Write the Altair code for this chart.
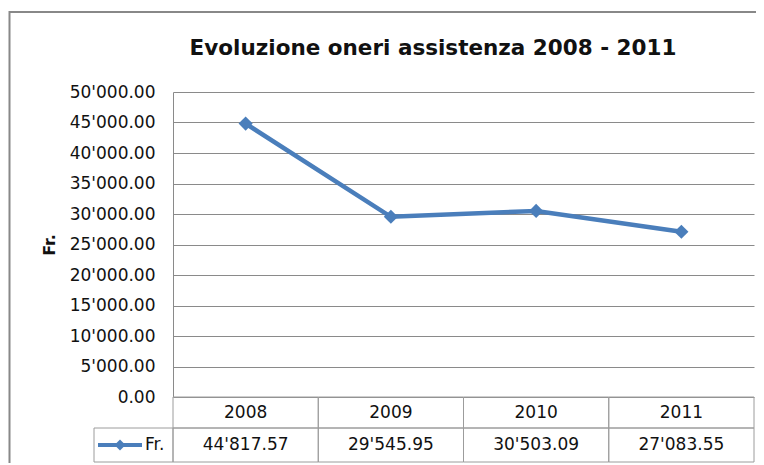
import altair as alt
import pandas as pd

# ---- data ----
years = ["2008", "2009", "2010", "2011"]
values = [44817.57, 29545.95, 30503.09, 27083.55]
y_ticks = [0, 5000, 10000, 15000, 20000, 25000, 30000, 35000, 40000, 45000, 50000]
chart_title = "Evoluzione oneri assistenza 2008 - 2011"
series_name = "Fr."
y_title = "Fr."

labels = [f"{v:,.2f}".replace(",", "'") for v in values]
df = pd.DataFrame({"year": years, "value": values, "label": labels})
one = pd.DataFrame({"name": [series_name], "title": [chart_title]})

# ---- style ----
W, H = 581, 305
FONT = "DejaVu Sans"
BLUE = "#4a7ebb"
GRID = "#8a8a8a"
TABLE = "#9c9c9c"
R1 = 31   # first table row height
R2 = 65   # table bottom (relative to plot bottom)

xenc = alt.X("year:N", sort=years,
             scale=alt.Scale(type="band", paddingInner=0, paddingOuter=0),
             axis=None)
yaxis = alt.Axis(values=y_ticks,
                 labelExpr="replace(format(datum.value, ',.2f'), ',', \"'\")",
                 grid=True, gridColor=GRID, gridWidth=1,
                 domainColor=GRID, domainWidth=1,
                 ticks=False, labelPadding=18,
                 labelFont=FONT, labelFontSize=17, labelColor="#111111",
                 title=y_title, titleFont=FONT, titleFontSize=16,
                 titleFontWeight="bold", titleColor="#111111",
                 titleAngle=-90, titleX=-124, titleY=H / 2,
                 titleBaseline="middle", titleAlign="center")
yenc = alt.Y("value:Q", scale=alt.Scale(domain=[0, 50000], nice=False), axis=yaxis)

line = alt.Chart(df).mark_line(color=BLUE, strokeWidth=4.5).encode(x=xenc, y=yenc)
pts = alt.Chart(df).mark_point(shape="diamond", filled=True, size=200,
                               color=BLUE, opacity=1).encode(x=xenc, y=yenc)

row1 = alt.Chart(df).mark_rect(fill="transparent", stroke=TABLE, strokeWidth=1).encode(
    x=xenc, y=alt.value(H), y2=alt.value(H + R1))
row2 = alt.Chart(df).mark_rect(fill="transparent", stroke=TABLE, strokeWidth=1).encode(
    x=xenc, y=alt.value(H + R1), y2=alt.value(H + R2))
leg_cell = alt.Chart(one).mark_rect(fill="transparent", stroke=TABLE, strokeWidth=1).encode(
    x=alt.value(-79), x2=alt.value(0), y=alt.value(H + R1), y2=alt.value(H + R2))

yr_text = alt.Chart(df).mark_text(font=FONT, fontSize=17, color="#111111",
                                  baseline="middle").encode(
    x=xenc, y=alt.value(H + 16), text="year:N")
val_text = alt.Chart(df).mark_text(font=FONT, fontSize=17, color="#111111",
                                   baseline="middle").encode(
    x=xenc, y=alt.value(H + 48), text="label:N")

leg_line = alt.Chart(one).mark_rule(color=BLUE, strokeWidth=4).encode(
    x=alt.value(-75), x2=alt.value(-31), y=alt.value(H + 48))
leg_pt = alt.Chart(one).mark_point(shape="diamond", filled=True, size=120,
                                   color=BLUE, opacity=1).encode(
    x=alt.value(-53), y=alt.value(H + 48))
leg_txt = alt.Chart(one).mark_text(font=FONT, fontSize=17, color="#111111",
                                   align="left", baseline="middle").encode(
    x=alt.value(-28), y=alt.value(H + 48), text="name:N")

title_txt = alt.Chart(one).mark_text(font=FONT, fontSize=21.5, fontWeight="bold",
                                     color="#111111", align="center",
                                     baseline="alphabetic").encode(
    x=alt.value(260), y=alt.value(-37), text="title:N")

border = alt.Chart(one).mark_rect(fill="transparent", stroke="#888888", strokeWidth=2).encode(
    x=alt.value(-163.5), x2=alt.value(900), y=alt.value(-80), y2=alt.value(700))

chart = alt.layer(
    border, row1, row2, leg_cell, line, pts, yr_text, val_text,
    leg_line, leg_pt, leg_txt, title_txt
).properties(
    width=W, height=H,
    padding={"left": 165, "top": 84, "right": 2, "bottom": 66},
    autosize=alt.AutoSizeParams(type="none"),
).configure_view(strokeWidth=0)

chart.save("out.html", embed_options={"renderer": "svg", "actions": False})
